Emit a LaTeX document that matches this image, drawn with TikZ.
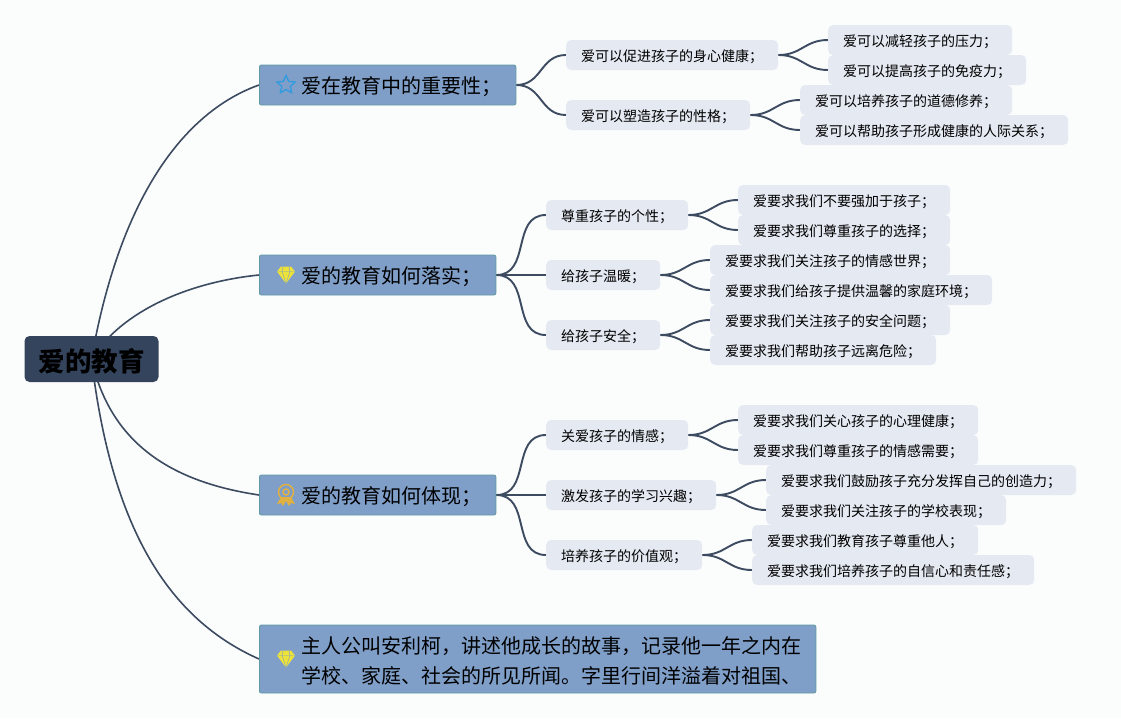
\documentclass[tikz,border=0pt]{standalone}
\usepackage{fontspec}
\usepackage{xcolor}
\setmainfont{Noto Sans CJK SC}
\usetikzlibrary{backgrounds}
\usetikzlibrary{shapes.geometric}
\definecolor{pagebg}{HTML}{FBFCFC}
\definecolor{rootfill}{HTML}{34445C}
\definecolor{mainfill}{HTML}{7F9FC9}
\definecolor{mainedge}{HTML}{5F9AA0}
\definecolor{subfill}{HTML}{E4E9F2}
\definecolor{linkcol}{HTML}{3D4B60}
\definecolor{starcol}{HTML}{2F9BE0}
\definecolor{gemcol}{HTML}{EDE23A}
\definecolor{medalcol}{HTML}{E0B040}
\newcommand{\iconpad}{\hspace*{28.5pt}}
\tikzset{
  rootbox/.style={fill=rootfill,rounded corners=5pt,minimum width=134pt,minimum height=46pt,inner sep=0pt,text height=24.5pt,text depth=0.5pt,font=\fontsize{26.5}{30}\selectfont\bfseries},
  mainbox/.style={anchor=west,fill=mainfill,draw=mainedge,line width=0.8pt,rounded corners=2pt,minimum height=40pt,inner xsep=14pt,inner ysep=0pt,align=left,text height=18pt,text depth=0.8pt,font=\fontsize{20}{30}\selectfont},
  subbox/.style={anchor=west,fill=subfill,rounded corners=5pt,minimum height=30pt,inner xsep=15pt,inner ysep=0pt,text height=13pt,text depth=0.4pt,font=\fontsize{14}{18}\selectfont},
  link/.style={draw=linkcol,line width=1.6pt},
  branch/.style={link,line width=1.9pt,out=0,in=180,looseness=1.15},
  gem/.pic={
    \fill[gemcol] (-9,-3.5) -- (-5,-8.5) -- (5,-8.5) -- (9,-3.5) -- (0,8.5) -- cycle;
    \draw[mainfill,line width=0.4pt] (-9,-3.5) -- (9,-3.5) (-3,-8.5) -- (-4,-3.5) -- (0,8.5) -- (4,-3.5) -- (3,-8.5);
  },
  medal/.pic={
    \draw[medalcol,line width=1.5pt] (0,-3) circle (7.5) (0,-3) circle (3);
    \fill[medalcol] (-5,2) -- (-9,9) -- (-5,8) -- (-3,11) -- (0,6) -- (3,11) -- (5,8) -- (9,9) -- (5,2) -- cycle;
  }
}
\begin{document}
\begin{tikzpicture}[x=1pt,y=-1pt]
\useasboundingbox (0,0) rectangle (1121,718);

\node[rootbox] (root) at (91.5,359) {爱的教育};

\node[mainbox] (mainA) at (259,85) {\iconpad 爱在教育中的重要性；};
\node[mainbox] (mainB) at (259,275) {\iconpad 爱的教育如何落实；};
\node[mainbox] (mainC) at (259,495) {\iconpad 爱的教育如何体现；};
\node[mainbox,minimum height=68pt,text height={},text depth={}] (mainD) at (259,659) {\rule{0pt}{21.5pt}\iconpad 主人公叫安利柯，讲述他成长的故事，记录他一年之内在\\\iconpad 学校、家庭、社会的所见所闻。字里行间洋溢着对祖国、};

\node[star,star points=5,star point ratio=2.1,minimum size=19pt,inner sep=0pt,draw=starcol,line width=1.3pt] (iconA) at (286,85) {};
\pic at (286,275) {gem};
\pic at (286,495) {medal};
\pic at (286,659) {gem};

\node[subbox] (subA) at (566,55) {爱可以促进孩子的身心健康；};
\node[subbox] (subB) at (566,115) {爱可以塑造孩子的性格；};
\node[subbox] (subC) at (546,215) {尊重孩子的个性；};
\node[subbox] (subD) at (546,275) {给孩子温暖；};
\node[subbox] (subE) at (546,335) {给孩子安全；};
\node[subbox] (subF) at (546,435) {关爱孩子的情感；};
\node[subbox] (subG) at (546,495) {激发孩子的学习兴趣；};
\node[subbox] (subH) at (546,555) {培养孩子的价值观；};

\node[subbox] (leafA) at (828,40) {爱可以减轻孩子的压力；};
\node[subbox] (leafB) at (828,70) {爱可以提高孩子的免疫力；};
\node[subbox] (leafC) at (800,100) {爱可以培养孩子的道德修养；};
\node[subbox] (leafD) at (800,130) {爱可以帮助孩子形成健康的人际关系；};
\node[subbox] (leafE) at (738,200) {爱要求我们不要强加于孩子；};
\node[subbox] (leafF) at (738,230) {爱要求我们尊重孩子的选择；};
\node[subbox] (leafG) at (710,260) {爱要求我们关注孩子的情感世界；};
\node[subbox] (leafH) at (710,290) {爱要求我们给孩子提供温馨的家庭环境；};
\node[subbox] (leafI) at (710,320) {爱要求我们关注孩子的安全问题；};
\node[subbox] (leafJ) at (710,350) {爱要求我们帮助孩子远离危险；};
\node[subbox] (leafK) at (738,420) {爱要求我们关心孩子的心理健康；};
\node[subbox] (leafL) at (738,450) {爱要求我们尊重孩子的情感需要；};
\node[subbox] (leafM) at (766,480) {爱要求我们鼓励孩子充分发挥自己的创造力；};
\node[subbox] (leafN) at (766,510) {爱要求我们关注孩子的学校表现；};
\node[subbox] (leafO) at (752,540) {爱要求我们教育孩子尊重他人；};
\node[subbox] (leafP) at (752,570) {爱要求我们培养孩子的自信心和责任感；};

\begin{scope}[on background layer]
\fill[pagebg] (0,0) rectangle (1121,718);
\draw[link] (root.center) .. controls +(30,-170) and +(-70,25) .. (mainA.west);
\draw[link] (root.center) .. controls +(31,-49) and +(-69,7) .. (mainB.west);
\draw[link] (root.center) .. controls +(20,90) and +(-80,-12) .. (mainC.west);
\draw[link] (root.center) .. controls +(20,170) and +(-90,-40) .. (mainD.west);

\draw[branch] (mainA.east) to (subA.west);
\draw[branch] (mainA.east) to (subB.west);
\draw[branch] (mainB.east) to (subC.west);
\draw[branch] (mainB.east) to (subD.west);
\draw[branch] (mainB.east) to (subE.west);
\draw[branch] (mainC.east) to (subF.west);
\draw[branch] (mainC.east) to (subG.west);
\draw[branch] (mainC.east) to (subH.west);

\draw[branch] (subA.east) to (leafA.west);
\draw[branch] (subA.east) to (leafB.west);
\draw[branch] (subB.east) to (leafC.west);
\draw[branch] (subB.east) to (leafD.west);
\draw[branch] (subC.east) to (leafE.west);
\draw[branch] (subC.east) to (leafF.west);
\draw[branch] (subD.east) to (leafG.west);
\draw[branch] (subD.east) to (leafH.west);
\draw[branch] (subE.east) to (leafI.west);
\draw[branch] (subE.east) to (leafJ.west);
\draw[branch] (subF.east) to (leafK.west);
\draw[branch] (subF.east) to (leafL.west);
\draw[branch] (subG.east) to (leafM.west);
\draw[branch] (subG.east) to (leafN.west);
\draw[branch] (subH.east) to (leafO.west);
\draw[branch] (subH.east) to (leafP.west);
\end{scope}
\end{tikzpicture}
\end{document}
